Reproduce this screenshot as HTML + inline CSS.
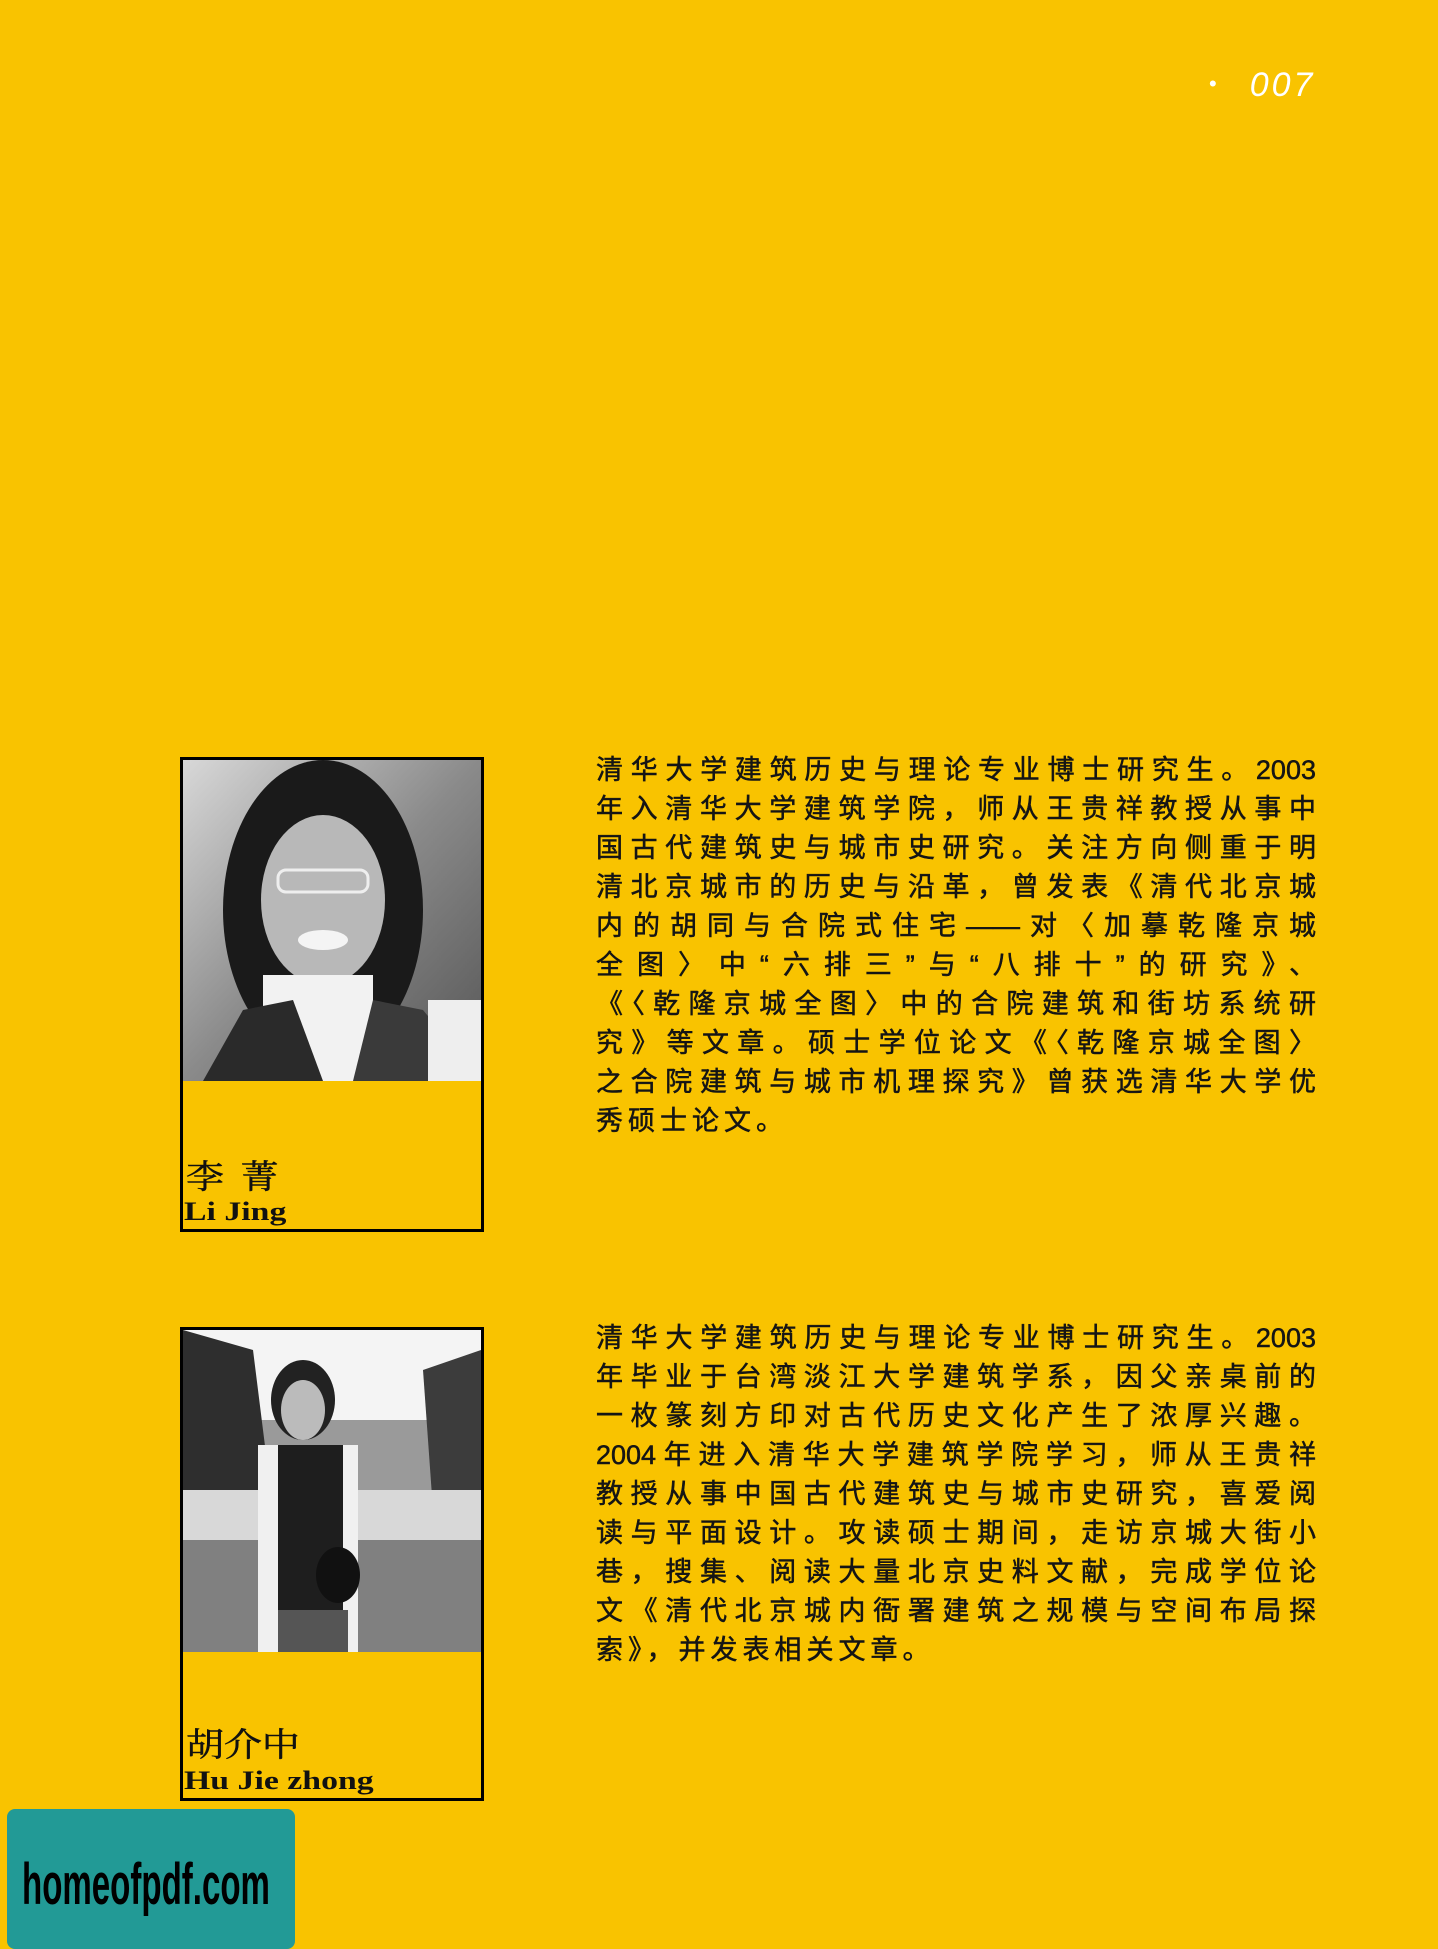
<!DOCTYPE html>
<html><head><meta charset="utf-8">
<style>
html,body{margin:0;padding:0}
body{width:1438px;height:1937px;background:#f9c300;position:relative;overflow:hidden;font-family:"Liberation Sans","Noto Sans CJK SC",sans-serif}
.abs{position:absolute}
.frame{position:absolute;left:180px;width:298px;border:3px solid #000;box-sizing:content-box}
.photo{position:absolute;left:0;top:0;width:298px;overflow:hidden}
.cn{position:absolute;left:3px;font-family:"Noto Serif CJK SC","Noto Sans CJK SC",serif;font-size:33px;line-height:40px;color:#111;letter-spacing:3px;transform:scaleX(1.15);transform-origin:left top;-webkit-text-stroke:0.5px #111;white-space:nowrap}
.en{position:absolute;left:1px;font-family:"Liberation Serif",serif;font-weight:bold;font-size:26px;line-height:30px;color:#111;transform:scaleX(1.3);transform-origin:left top;white-space:nowrap}
.text{position:absolute;left:596px;width:720px;font-size:27px;color:#151515;font-family:"Liberation Sans","Noto Sans CJK SC",sans-serif;-webkit-text-stroke:0.5px #151515}
.text div{height:39px;line-height:39px;text-align:justify;text-align-last:justify;white-space:nowrap;overflow:visible}
.text div.last{text-align-last:left;letter-spacing:5px}
</style></head>
<body>
<div class="abs" style="left:1209px;top:66px;color:#fff;font-size:34px;font-style:italic;white-space:nowrap;letter-spacing:3px"><span style="font-size:22px;font-style:normal;position:relative;top:-5px">•</span><span style="margin-left:30px">007</span></div>

<div class="frame" style="top:757px;height:469px">
  <svg class="photo" width="298" height="321" viewBox="0 0 298 321">
    <defs><linearGradient id="g1" x1="0" y1="0" x2="1" y2="1"><stop offset="0" stop-color="#d8d8d8"/><stop offset="0.5" stop-color="#8a8a8a"/><stop offset="1" stop-color="#555"/></linearGradient></defs>
    <rect width="298" height="321" fill="url(#g1)"/>
    <ellipse cx="140" cy="150" rx="100" ry="150" fill="#1a1a1a"/>
    <ellipse cx="140" cy="140" rx="62" ry="85" fill="#b8b8b8"/>
    <rect x="95" y="110" width="90" height="22" rx="8" fill="none" stroke="#eee" stroke-width="3"/>
    <ellipse cx="140" cy="180" rx="25" ry="10" fill="#f4f4f4"/>
    <rect x="80" y="215" width="110" height="106" fill="#f2f2f2"/>
    <path d="M20 321 L60 250 L110 240 L140 321 Z" fill="#2a2a2a"/>
    <path d="M170 321 L190 240 L240 250 L298 321 Z" fill="#3a3a3a"/>
    <rect x="245" y="240" width="53" height="81" fill="#eee"/>
  </svg>
  <div class="cn" style="top:395px">李 菁</div>
  <div class="en" style="top:437px">Li Jing</div>
</div>

<div class="text" style="top:751px">
<div>清华大学建筑历史与理论专业博士研究生。2003</div>
<div>年入清华大学建筑学院，师从王贵祥教授从事中</div>
<div>国古代建筑史与城市史研究。关注方向侧重于明</div>
<div>清北京城市的历史与沿革，曾发表《清代北京城</div>
<div>内的胡同与合院式住宅——对〈加摹乾隆京城</div>
<div>全图〉中“六排三”与“八排十”的研究》、</div>
<div>《〈乾隆京城全图〉中的合院建筑和街坊系统研</div>
<div>究》等文章。硕士学位论文《〈乾隆京城全图〉</div>
<div>之合院建筑与城市机理探究》曾获选清华大学优</div>
<div class="last">秀硕士论文。</div>
</div>

<div class="frame" style="top:1327px;height:468px">
  <svg class="photo" width="298" height="322" viewBox="0 0 298 322">
    <rect width="298" height="322" fill="#9a9a9a"/>
    <rect width="298" height="90" fill="#f4f4f4"/>
    <path d="M0 0 L70 20 L90 180 L0 200 Z" fill="#2e2e2e"/>
    <path d="M240 40 L298 20 L298 200 L250 180 Z" fill="#3c3c3c"/>
    <rect x="0" y="160" width="298" height="60" fill="#d8d8d8"/>
    <rect x="0" y="210" width="298" height="112" fill="#808080"/>
    <ellipse cx="120" cy="70" rx="32" ry="40" fill="#222"/>
    <ellipse cx="120" cy="80" rx="22" ry="30" fill="#bbb"/>
    <rect x="75" y="115" width="100" height="207" fill="#f0f0f0"/>
    <rect x="95" y="115" width="65" height="170" fill="#1e1e1e"/>
    <rect x="95" y="280" width="70" height="42" fill="#555"/>
    <ellipse cx="155" cy="245" rx="22" ry="28" fill="#111"/>
  </svg>
  <div class="cn" style="top:393px;letter-spacing:0">胡介中</div>
  <div class="en" style="top:436px">Hu Jie zhong</div>
</div>

<div class="text" style="top:1319px">
<div>清华大学建筑历史与理论专业博士研究生。2003</div>
<div>年毕业于台湾淡江大学建筑学系，因父亲桌前的</div>
<div>一枚篆刻方印对古代历史文化产生了浓厚兴趣。</div>
<div>2004年进入清华大学建筑学院学习，师从王贵祥</div>
<div>教授从事中国古代建筑史与城市史研究，喜爱阅</div>
<div>读与平面设计。攻读硕士期间，走访京城大街小</div>
<div>巷，搜集、阅读大量北京史料文献，完成学位论</div>
<div>文《清代北京城内衙署建筑之规模与空间布局探</div>
<div class="last">索》，并发表相关文章。</div>
</div>

<div class="abs" style="left:7px;top:1809px;width:288px;height:140px;background:#229a96;border-radius:8px">
  <div style="position:absolute;left:15px;top:42px;font-size:58px;font-weight:bold;color:#000;transform:scaleX(0.57);transform-origin:left top;white-space:nowrap;font-family:'Liberation Sans',sans-serif">homeofpdf.com</div>
</div>
</body></html>
